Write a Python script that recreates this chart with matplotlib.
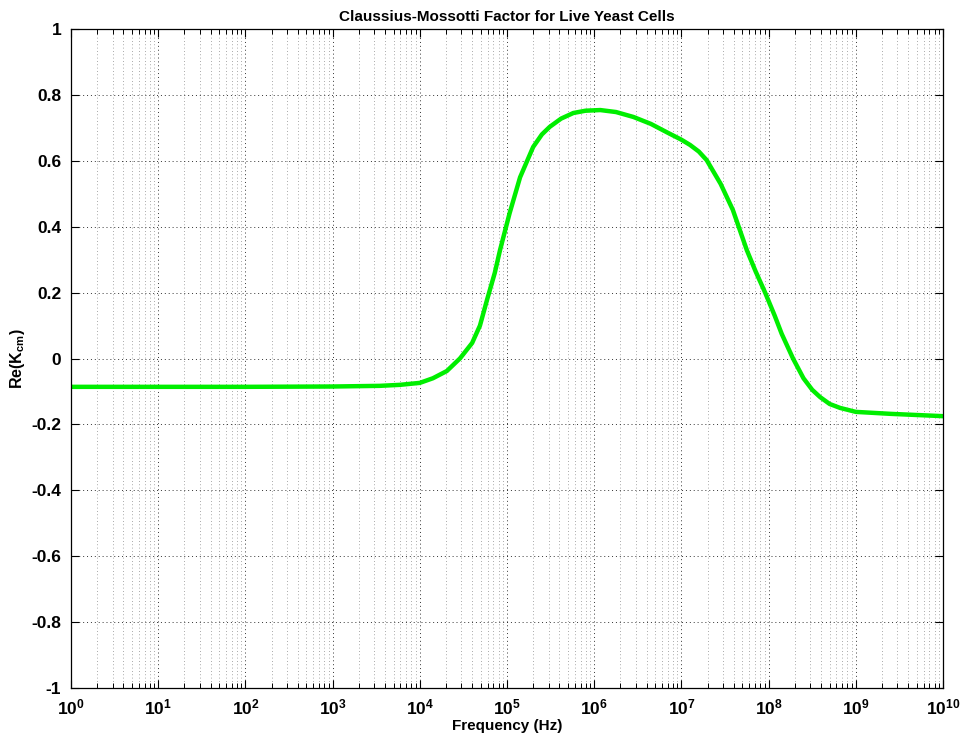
import numpy as np
import matplotlib
matplotlib.use('Agg')
import matplotlib.pyplot as plt
from matplotlib.ticker import LogLocator, NullFormatter

# Re(K_cm), frequency given as log10(Hz)
log_freq = [0, 1, 2, 3, 3.54, 3.77, 4.0, 4.15, 4.31, 4.46, 4.6, 4.69, 4.77,
            4.86, 4.92, 5.03, 5.15, 5.30, 5.40, 5.49, 5.62, 5.76, 5.9, 6.07,
            6.25, 6.45, 6.65, 6.83, 7.0, 7.10, 7.2, 7.29, 7.45, 7.59, 7.67,
            7.75, 7.85, 7.96, 8.07, 8.15, 8.28, 8.4, 8.5, 8.59, 8.7, 8.82,
            9.0, 9.4, 10]
re_kcm = [-0.086, -0.086, -0.086, -0.085, -0.083, -0.080, -0.074, -0.060,
          -0.038, 0.0, 0.047, 0.10, 0.177, 0.26, 0.329, 0.441, 0.55, 0.642,
          0.68, 0.703, 0.728, 0.745, 0.752, 0.754, 0.748, 0.733, 0.712,
          0.687, 0.664, 0.648, 0.628, 0.602, 0.53, 0.451, 0.39, 0.329,
          0.265, 0.20, 0.13, 0.075, 0.0, -0.06, -0.095, -0.117, -0.138,
          -0.150, -0.162, -0.168, -0.175]

y_ticks = [-1, -0.8, -0.6, -0.4, -0.2, 0, 0.2, 0.4, 0.6, 0.8, 1]
y_tick_labels = ['-1', '-0.8', '-0.6', '-0.4', '-0.2', '0', '0.2', '0.4', '0.6', '0.8', '1']

plt.rcParams['font.family'] = ['Liberation Sans', 'DejaVu Sans']
plt.rcParams['font.weight'] = 'bold'
plt.rcParams['mathtext.fontset'] = 'custom'
plt.rcParams['mathtext.rm'] = 'Liberation Sans:bold'
plt.rcParams['mathtext.it'] = 'Liberation Sans:bold'
plt.rcParams['mathtext.bf'] = 'Liberation Sans:bold'

freq_hz = np.power(10.0, log_freq)

fig = plt.figure(figsize=(9.61, 7.40), dpi=100)
ax = fig.add_axes([71 / 961, 1 - 688 / 740, 872 / 961, 659 / 740])

ax.plot(freq_hz, re_kcm, color='#00ee00', lw=3.2, solid_joinstyle='round')

ax.set_xscale('log')
ax.set_xlim(1, 1e10)
ax.set_ylim(-1, 1)
ax.xaxis.set_major_locator(LogLocator(base=10, numticks=20))
ax.xaxis.set_minor_locator(LogLocator(base=10, subs=np.arange(2, 10), numticks=20))
ax.xaxis.set_minor_formatter(NullFormatter())
ax.set_yticks(y_ticks)
ax.set_yticklabels(y_tick_labels)

ax.grid(which='major', axis='both', color='black', linestyle=(0, (1, 3)), lw=0.7, alpha=0.8)
ax.grid(which='minor', axis='x', color='black', linestyle=(0, (1, 3)), lw=0.6, alpha=0.45)

ax.tick_params(which='both', direction='in', top=True, right=True, labelsize=12.5)
ax.tick_params(which='major', length=6, width=0.8)
ax.tick_params(which='minor', length=3.5, width=0.7)
ax.tick_params(axis='x', which='major', pad=7)
ax.tick_params(axis='y', which='major', pad=7)
for lbl in ax.get_xticklabels() + ax.get_yticklabels():
    lbl.set_fontweight('bold')
for s in ax.spines.values():
    s.set_linewidth(0.9)

ax.set_title('Claussius-Mossotti Factor for Live Yeast Cells', fontsize=11, fontweight='bold', pad=6)
ax.set_xlabel('Frequency (Hz)', fontsize=11, fontweight='bold', labelpad=1)
ax.set_ylabel('Re(K$_{cm}$)', fontsize=11.5, fontweight='bold', labelpad=3)

fig.savefig('out.png', dpi=100)
